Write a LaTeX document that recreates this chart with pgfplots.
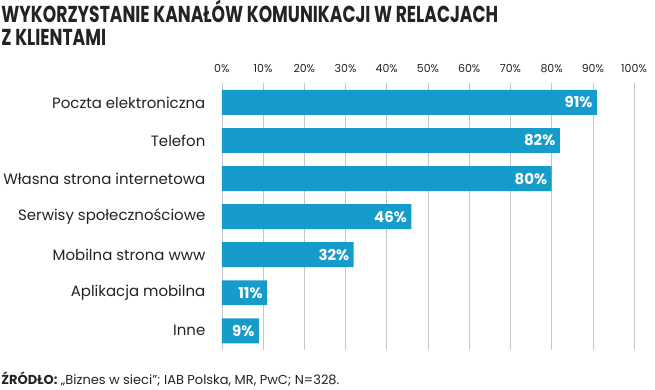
\documentclass[border=0pt]{standalone}
\usepackage{fontspec}
\setmainfont{Poppins}
\usepackage{pgfplots}
\pgfplotsset{compat=1.18}
\definecolor{barblue}{RGB}{22,156,203}
\definecolor{txt}{RGB}{35,35,35}
\begin{document}
\begin{tikzpicture}[x=1pt,y=1pt]
\path (0,0) rectangle (655,388);
\node[anchor=base west, inner sep=0, text=txt, font=\fontsize{22}{25}\selectfont\bfseries] at (0,368) {\scalebox{0.78}[1.05]{WYKORZYSTANIE KANAŁÓW KOMUNIKACJI W RELACJACH}};
\node[anchor=base west, inner sep=0, text=txt, font=\fontsize{22}{25}\selectfont\bfseries] at (0,345) {\scalebox{0.78}[1.05]{Z KLIENTAMI}};
\begin{axis}[at={(221pt,40pt)}, anchor=south west, scale only axis,
  width=413pt, height=267pt,
  xmin=0, xmax=100, ymin=-0.5, ymax=6.5, y dir=reverse,
  xbar, bar width=25pt,
  axis line style={draw=none}, major tick length=0,
  xtick={0,10,...,100}, xmajorgrids, grid style={gray!45, line width=0.6pt},
  xticklabel pos=upper,
  xticklabel={\pgfmathprintnumber{\tick}\%},
  /pgf/number format/assume math mode=true,
  xticklabel style={font=\fontsize{11}{12}\selectfont, text=txt, yshift=7pt},
  ytick={0,...,6},
  yticklabels={Poczta elektroniczna, Telefon, Własna strona internetowa, Serwisy społecznościowe, Mobilna strona www, Aplikacja mobilna, Inne},
  yticklabel style={font=\fontsize{15}{16}\selectfont, text=txt, xshift=-13pt},
  nodes near coords={\pgfmathprintnumber{\pgfplotspointmeta}\%},
  point meta=x,
  nodes near coords style={anchor=east, xshift=-1pt, text=white, font=\fontsize{15}{16}\selectfont\bfseries},
]
\addplot[fill=barblue, draw=none] coordinates {(91,0) (82,1) (80,2) (46,3) (32,4) (11,5) (9,6)};
\end{axis}
\node[anchor=west, inner sep=0, text=txt, font=\fontsize{13}{14}\selectfont] at (0,11) {\textbf{ŹRÓDŁO:} „Biznes w sieci”; IAB Polska, MR, PwC; N=328.};
\end{tikzpicture}
\end{document}
